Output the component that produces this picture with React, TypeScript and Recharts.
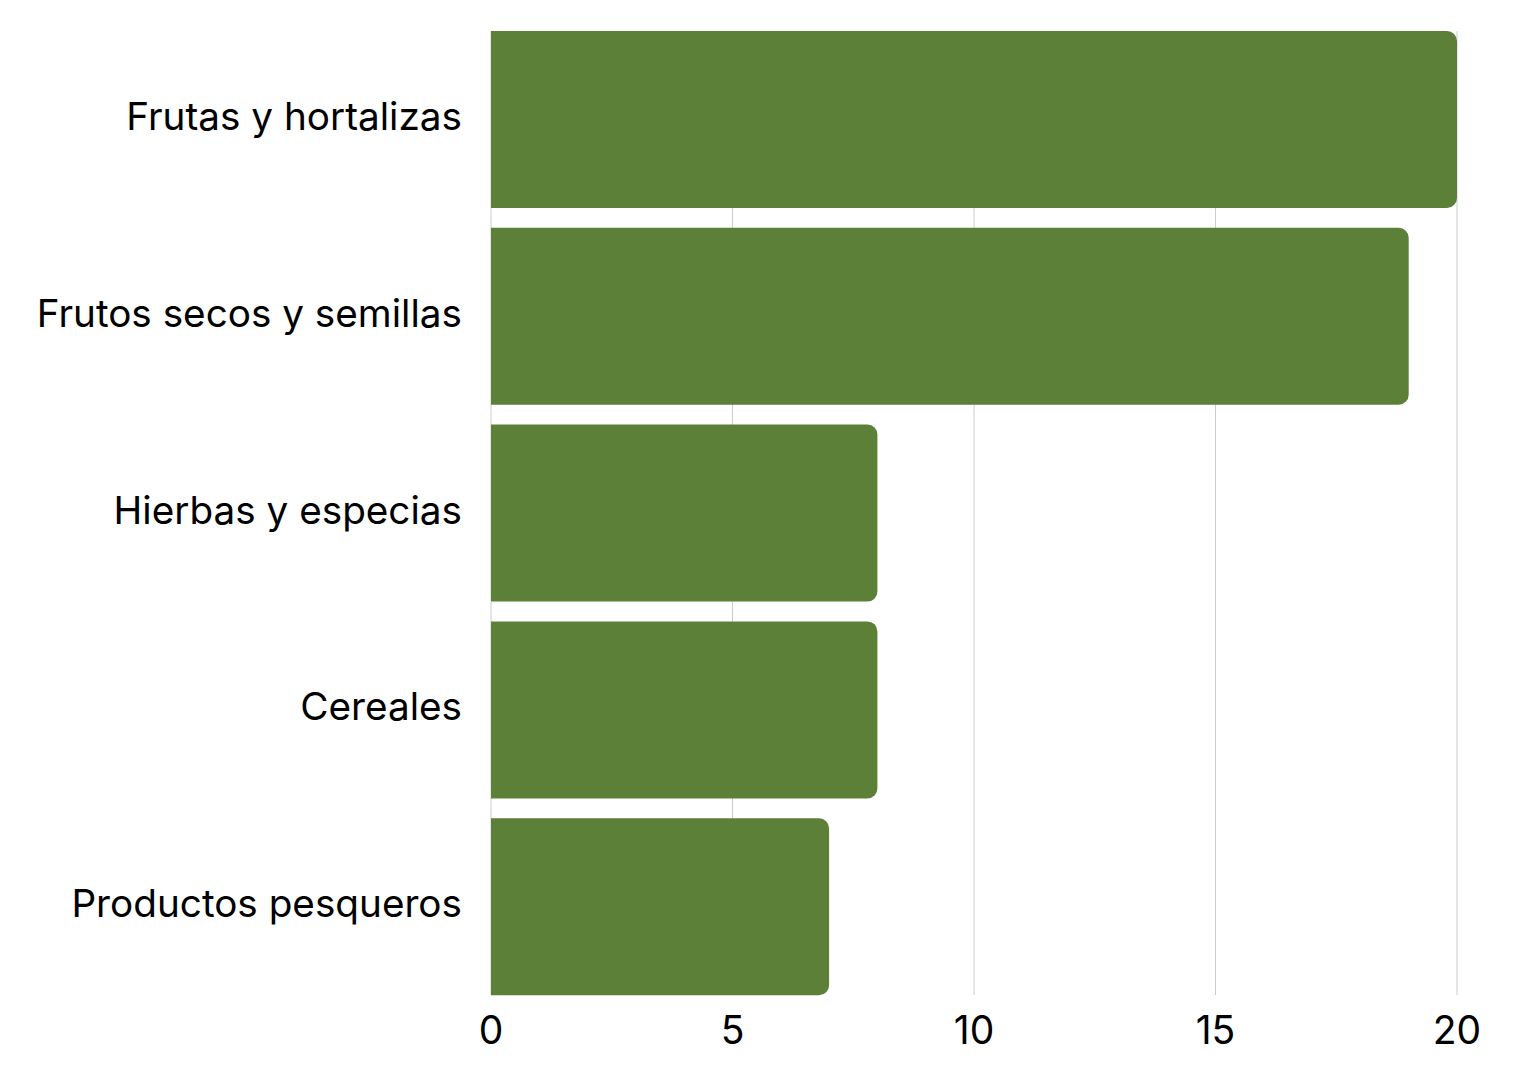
import React from "react";
import { BarChart, Bar, XAxis, YAxis, CartesianGrid } from "recharts";

const categories = [
  "Frutas y hortalizas",
  "Frutos secos y semillas",
  "Hierbas y especias",
  "Cereales",
  "Productos pesqueros",
];
const values = [20, 19, 8, 8, 7];
const xTicks = [0, 5, 10, 15, 20];

const data = categories.map((name, i) => ({ name, value: values[i] }));

const YTick = (props: any) => {
  const { x, y, payload } = props;
  return (
    <text x={x + 1} y={y + 10.5} textAnchor="end" fontSize={38.7} fill="#000" fontFamily="Inter">
      {payload.value}
    </text>
  );
};

export default function App() {
  return (
    <div style={{ position: "absolute", left: 0, top: 0, width: 1521, height: 1080, background: "#fff", fontFamily: "Inter" }}>
      <BarChart
        width={1521}
        height={1080}
        data={data}
        layout="vertical"
        margin={{ top: 31, right: 64, bottom: 0, left: 0 }}
        barCategoryGap={10}
      >
        <CartesianGrid horizontal={false} vertical={true} stroke="#cccccc" strokeWidth={1} />
        <XAxis
          type="number"
          domain={[0, 20]}
          ticks={xTicks}
          height={85}
          axisLine={false}
          tickLine={false}
          tickSize={0}
          tickMargin={21}
          tick={{ fill: "#000", fontSize: 39, fontFamily: "Inter" }}
        />
        <YAxis
          type="category"
          dataKey="name"
          width={491}
          axisLine={false}
          tickLine={false}
          tickSize={0}
          tickMargin={30}
          padding={{ top: -10, bottom: -10 }}
          tick={<YTick />}
        />
        <Bar dataKey="value" fill="#5c8038" radius={[0, 10, 10, 0]} isAnimationActive={false} />
      </BarChart>
    </div>
  );
}
